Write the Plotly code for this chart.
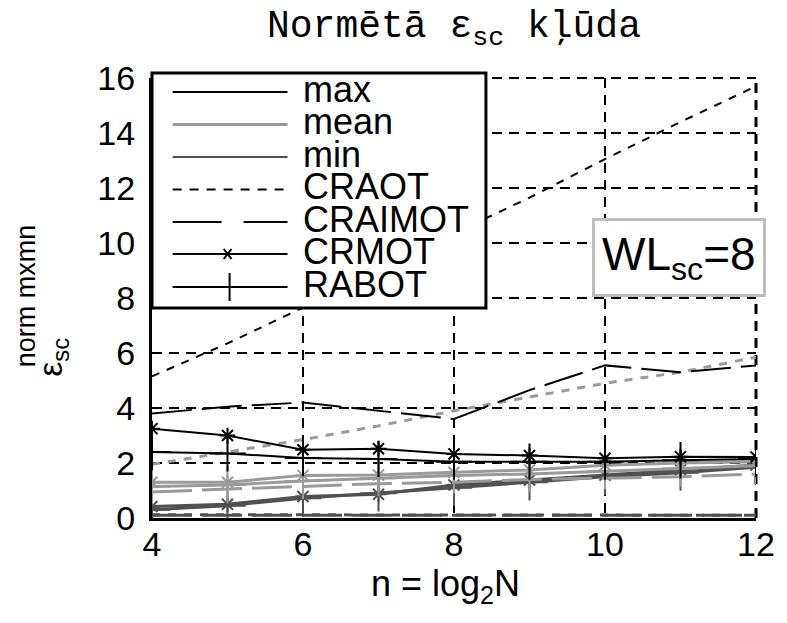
import plotly.graph_objects as go

# ---------------- data ----------------
n_vals = [4, 5, 6, 7, 8, 9, 10, 11, 12]

craot_max = [5.15, 6.35, 7.65, 9.0, 10.35, 11.65, 13.05, 14.4, 15.7]
craot_mean = [1.95, 2.4, 2.85, 3.35, 3.9, 4.4, 4.9, 5.3, 5.85]
craot_min = [0.12, 0.12, 0.11, 0.11, 0.10, 0.10, 0.10, 0.10, 0.10]

craimot_max = [3.8, 4.05, 4.2, 3.9, 3.6, 4.65, 5.55, 5.3, 5.55]
craimot_mean = [0.95, 1.05, 1.15, 1.25, 1.3, 1.4, 1.45, 1.5, 1.6]
craimot_min = [0.10, 0.10, 0.10, 0.10, 0.10, 0.10, 0.10, 0.10, 0.10]

crmot_max = [3.25, 3.0, 2.48, 2.52, 2.33, 2.27, 2.17, 2.23, 2.22]
crmot_mean = [1.3, 1.3, 1.55, 1.56, 1.66, 1.75, 1.92, 2.0, 2.05]
crmot_min = [0.42, 0.5, 0.78, 0.86, 1.2, 1.38, 1.56, 1.75, 1.93]

rabot_max = [2.4, 2.35, 2.18, 2.15, 2.05, 2.05, 2.05, 2.1, 2.15]
rabot_mean = [1.15, 1.2, 1.35, 1.45, 1.55, 1.6, 1.7, 1.8, 1.9]
rabot_min = [0.3, 0.45, 0.72, 0.9, 1.1, 1.3, 1.5, 1.65, 1.85]

x_ticks = [4, 6, 8, 10, 12]
y_ticks = [0, 2, 4, 6, 8, 10, 12, 14, 16]

legend_labels = ["max", "mean", "min", "CRAOT", "CRAIMOT", "CRMOT", "RABOT"]

# ---------------- styles ----------------
C_MAX, C_MEAN, C_MIN = "#000000", "#9a9a9a", "#505050"
W_MAX, W_MEAN, W_MIN = 2, 3, 3
FONT = "Liberation Sans"
GRID_DASH = "10px,7px"

methods = {
    "CRAOT": dict(dash="8px,8px", marker=None),
    "CRAIMOT": dict(dash="40px,10px", marker=None),
    "CRMOT": dict(dash="solid", marker="asterisk"),
    "RABOT": dict(dash="solid", marker="cross-thin"),
}
data = {
    "CRAOT": (craot_max, craot_mean, craot_min),
    "CRAIMOT": (craimot_max, craimot_mean, craimot_min),
    "CRMOT": (crmot_max, crmot_mean, crmot_min),
    "RABOT": (rabot_max, rabot_mean, rabot_min),
}

fig = go.Figure()
for stat_idx, (col, w) in [(2, (C_MIN, W_MIN)), (1, (C_MEAN, W_MEAN)), (0, (C_MAX, W_MAX))]:
    for m, st in methods.items():
        vals = data[m][stat_idx]
        tr = dict(x=n_vals, y=vals, showlegend=False, hoverinfo="skip",
                  line=dict(color=col, width=w, dash=st["dash"]))
        if st["marker"] is None:
            tr["mode"] = "lines"
        else:
            size = 13 if st["marker"] == "asterisk" else 26
            tr["mode"] = "lines+markers"
            tr["marker"] = dict(symbol=st["marker"], size=size, color=col,
                                line=dict(color=col, width=2))
        fig.add_trace(go.Scatter(**tr))

# ---------------- layout ----------------
L, R, T, B = 152, 20, 78, 105
W, H = 787, 623
PW, PH = W - L - R, H - T - B


def px(xp):
    return (xp - L) / PW


def py(yp):
    return (T + PH - yp) / PH


fig.update_layout(
    width=W, height=H,
    margin=dict(l=L, r=R, t=T, b=B, pad=0),
    plot_bgcolor="white", paper_bgcolor="white",
    showlegend=False,
    font=dict(family=FONT, color="black", size=34),
    title=dict(text="Normētā ε<sub>sc</sub> kļūda",
               font=dict(family="Liberation Mono", size=38, color="black"),
               x=0.5, xref="paper", xanchor="center",
               y=1 - 24 / H, yref="container", yanchor="middle"),
)
fig.update_xaxes(range=[4, 12], tickvals=x_ticks, ticktext=[str(v) for v in x_ticks],
                 showgrid=True, gridcolor="black", gridwidth=2, griddash=GRID_DASH,
                 zeroline=False, showline=True, linecolor="black", linewidth=3,
                 ticks="", ticklen=0, tickfont=dict(size=34, family=FONT),
                 ticklabelstandoff=-6)
fig.update_yaxes(range=[0, 16], tickvals=y_ticks, ticktext=[str(v) for v in y_ticks],
                 showgrid=True, gridcolor="black", gridwidth=2, griddash=GRID_DASH,
                 zeroline=False, showline=True, linecolor="black", linewidth=3,
                 ticks="", ticklen=0, tickfont=dict(size=34, family=FONT),
                 ticklabelstandoff=7)

shapes = []
annots = []

# gridlines at the upper and right range ends (plotly omits them)
shapes.append(dict(type="line", xref="paper", yref="paper", layer="below",
                   x0=0, x1=1, y0=1, y1=1,
                   line=dict(color="black", width=2, dash=GRID_DASH)))
shapes.append(dict(type="line", xref="paper", yref="paper", layer="below",
                   x0=1, x1=1, y0=0, y1=1,
                   line=dict(color="black", width=3, dash=GRID_DASH)))

# legend box
shapes.append(dict(type="rect", xref="paper", yref="paper", layer="above",
                   x0=px(152), x1=px(492), y0=py(308), y1=py(73),
                   line=dict(color="black", width=3), fillcolor="white"))
row_y = [92, 124.5, 157, 189.5, 222, 254, 287]
leg_styles = [
    (C_MAX, 2, "solid"), (C_MEAN, 3, "solid"), (C_MIN, 2, "solid"),
    ("black", 2, "9px,8px"), ("black", 2, "49px,22px"),
    ("black", 2, "solid"), ("black", 2, "solid"),
]
for lab, yy, (col, w, dsh) in zip(legend_labels, row_y, leg_styles):
    shapes.append(dict(type="line", xref="paper", yref="paper", layer="above",
                       x0=px(173), x1=px(290), y0=py(yy), y1=py(yy),
                       line=dict(color=col, width=w, dash=dsh)))
    annots.append(dict(text=lab, xref="paper", yref="paper", x=px(304), y=py(yy - 3),
                       xanchor="left", yanchor="middle", showarrow=False,
                       font=dict(size=36, family=FONT, color="black")))
# legend marker samples
cy = row_y[5]
for dx, dy in [(-4, -5), (4, -5)]:
    shapes.append(dict(type="line", xref="paper", yref="paper", layer="above",
                       x0=px(229 + dx), x1=px(229 - dx), y0=py(cy + dy), y1=py(cy - dy),
                       line=dict(color="black", width=2)))
cy = row_y[6]
shapes.append(dict(type="line", xref="paper", yref="paper", layer="above",
                   x0=px(231), x1=px(231), y0=py(cy - 14), y1=py(cy + 14),
                   line=dict(color="black", width=2)))

# WL annotation
annots.append(dict(text="WL<sub>sc</sub>=8", xref="paper", yref="paper",
                   x=px(689), y=py(257), xanchor="center", yanchor="middle",
                   showarrow=False, bgcolor="white", bordercolor="#bdbdbd",
                   borderwidth=3, borderpad=7,
                   font=dict(size=46, family=FONT, color="black")))

# axis titles
annots.append(dict(text="n = log<sub>2</sub>N", xref="paper", yref="paper",
                   x=px(451), y=py(586), xanchor="center", yanchor="middle",
                   showarrow=False, font=dict(size=36, family=FONT, color="black")))
annots.append(dict(text="ε<sub>sc</sub>", xref="paper", yref="paper",
                   x=px(50), y=py(357), xanchor="center", yanchor="middle",
                   textangle=-90, showarrow=False,
                   font=dict(size=34, family=FONT, color="black")))
annots.append(dict(text="norm mxmn", xref="paper", yref="paper",
                   x=px(24), y=py(296), xanchor="center", yanchor="middle",
                   textangle=-90, showarrow=False,
                   font=dict(size=27, family=FONT, color="black")))

fig.update_layout(shapes=shapes, annotations=annots)
fig.write_html("out.html")
